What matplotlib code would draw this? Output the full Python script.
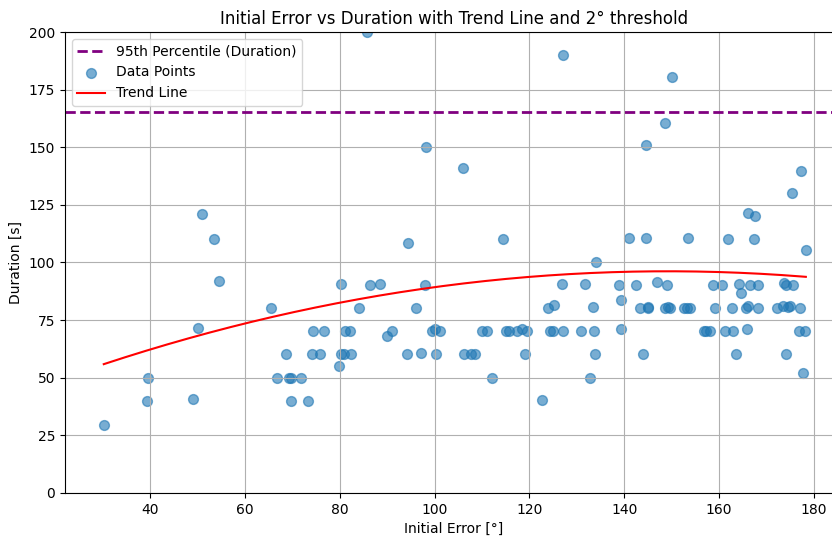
import numpy as np
import matplotlib
matplotlib.use("Agg")
import matplotlib.pyplot as plt

# initial error [deg] and duration [s]
initial_error = [30.2, 39.5, 39.4, 49.0, 50.0, 50.9, 53.4, 54.5, 65.4, 68.6,
                 66.7, 69.3, 69.8, 71.8, 69.8, 73.3, 74.1, 74.4, 75.8, 76.7,
                 79.8, 80.3, 80.3, 80.8, 81.1, 82.2, 82.4, 84.1, 86.4, 88.5,
                 90.0, 90.9, 94.2, 96.1, 97.2, 98.0, 99.4, 100.0, 101.1, 100.2,
                 106.1, 107.6, 108.5, 109.9, 111.1, 112.2, 115.0, 115.7, 117.3, 118.5,
                 119.4, 119.1, 122.7, 123.9, 125.1, 124.3, 125.0, 126.8, 85.8, 98.1,
                 105.9, 94.4, 114.4, 127.0, 150.1, 148.6, 144.6, 177.2, 175.3, 166.0,
                 167.6, 141.0, 144.6, 153.5, 161.9, 167.3, 178.3, 134.1, 131.8, 133.3,
                 133.7, 130.8, 127.1, 133.9, 132.7, 138.9, 139.3, 139.3, 142.5, 143.3,
                 144.9, 145.1, 144.0, 146.8, 149.0, 148.6, 149.3, 149.6, 152.7, 153.2,
                 153.9, 156.8, 157.3, 158.1, 158.7, 160.6, 159.1, 161.2, 163.0, 162.7,
                 163.5, 164.2, 164.6, 165.6, 166.0, 165.9, 166.5, 168.3, 168.2, 172.3,
                 173.4, 174.5, 174.9, 173.7, 174.1, 175.6, 177.0, 174.1, 176.8, 178.1,
                 177.7]
duration = [29.5, 50.0, 40.0, 40.7, 71.4, 120.8, 110.0, 92.0, 80.2, 60.2,
            50.0, 50.0, 50.0, 50.0, 40.0, 40.0, 60.2, 70.3, 60.2, 70.3,
            55.1, 90.6, 60.2, 60.2, 70.3, 70.3, 60.2, 80.2, 90.3, 90.6,
            68.0, 70.3, 60.2, 80.2, 60.8, 90.3, 70.3, 70.9, 70.3, 60.2,
            60.2, 60.2, 60.2, 70.3, 70.3, 50.0, 70.3, 70.3, 70.3, 70.9,
            70.3, 60.2, 40.4, 80.2, 81.5, 70.3, 70.3, 90.6, 200.0, 150.2,
            140.8, 108.4, 110.0, 190.0, 180.4, 160.5, 151.0, 139.8, 130.2, 121.3,
            120.1, 110.4, 110.4, 110.4, 110.0, 110.0, 105.2, 100.0, 90.6, 80.6,
            70.3, 70.3, 70.3, 60.2, 50.0, 90.0, 83.6, 71.0, 90.0, 80.2,
            80.5, 80.2, 60.2, 91.4, 90.0, 80.2, 80.5, 80.2, 80.2, 80.2,
            80.2, 70.3, 70.3, 70.3, 90.0, 90.0, 80.2, 70.3, 70.3, 80.2,
            60.2, 90.6, 86.8, 80.2, 81.2, 70.9, 90.0, 90.0, 80.2, 80.2,
            80.9, 80.7, 80.9, 91.1, 90.0, 90.0, 80.2, 60.2, 70.3, 70.3,
            52.0]
p95_duration = 165.2
# quadratic trend (a*x^2 + b*x + c)
trend_coef = [-0.002847, 0.8495, 32.78]

x = np.array(initial_error)
y = np.array(duration)

fig, ax = plt.subplots(figsize=(8.32, 5.38), dpi=100)
# the reference is cropped on the right, so the axes run past the edge
fig.subplots_adjust(left=0.078, right=1.013, top=0.9405, bottom=0.084)

ax.axhline(p95_duration, color="purple", linestyle="--", linewidth=2,
           label="95th Percentile (Duration)")
ax.scatter(x, y, alpha=0.6, s=50, label="Data Points")

xs = np.linspace(x.min(), x.max(), 200)
ax.plot(xs, np.polyval(trend_coef, xs), color="red", label="Trend Line")

ax.set_xlim(22.0, 186.1)
ax.set_ylim(0, 200)
ax.set_title("Initial Error vs Duration with Trend Line and 2° threshold")
ax.set_xlabel("Initial Error [°]")
ax.set_ylabel("Duration [s]")
ax.grid(True)
ax.legend(loc="upper left")

fig.savefig("out.png")
